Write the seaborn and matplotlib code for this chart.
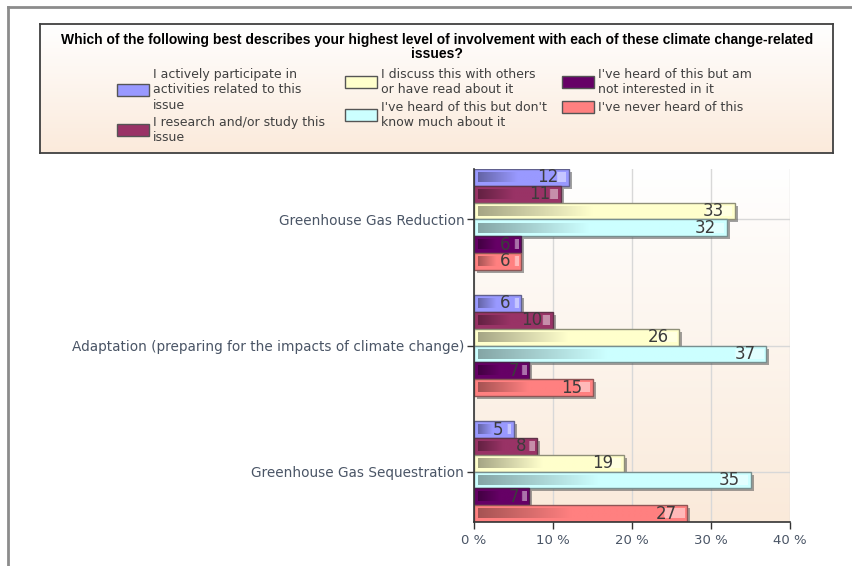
import numpy as np
import pandas as pd
import matplotlib
matplotlib.use("Agg")
import matplotlib.pyplot as plt
import matplotlib.patheffects as pe
from matplotlib.colors import to_rgb
from matplotlib.patches import Rectangle
from matplotlib.lines import Line2D
import seaborn as sns

# ---------------------------------------------------------------------------
# Data
# ---------------------------------------------------------------------------
issues = [
    "Greenhouse Gas Reduction",
    "Adaptation (preparing for the impacts of climate change)",
    "Greenhouse Gas Sequestration",
]
levels = [
    "I actively participate in\nactivities related to this\nissue",
    "I research and/or study this\nissue",
    "I discuss this with others\nor have read about it",
    "I've heard of this but don't\nknow much about it",
    "I've heard of this but am\nnot interested in it",
    "I've never heard of this",
]
colors = ["#9999FF", "#993366", "#FFFFCC", "#CCFFFF", "#660066", "#FF8080"]

participate = [12, 6, 5]
research = [11, 10, 8]
discuss = [33, 26, 19]
heard_dont_know = [32, 37, 35]
heard_not_interested = [6, 7, 7]
never_heard = [6, 15, 27]

x_ticks = [0, 10, 20, 30, 40]
title_lines = [
    "Which of the following best describes your highest level of involvement "
    "with each of these climate change-related",
    "issues?",
]

series = [participate, research, discuss, heard_dont_know, heard_not_interested, never_heard]
rows = []
for lvl, vals in zip(levels, series):
    for iss, v in zip(issues, vals):
        rows.append({"issue": iss, "level": lvl, "pct": v})
df = pd.DataFrame(rows)

TEXT = "#4a5566"
W, H = 852, 566


def mix(c1, c2, t):
    a, b = np.array(to_rgb(c1)), np.array(to_rgb(c2))
    return tuple(a * (1 - t) + b * t)


def vgradient(top, bottom, n=256):
    t = np.linspace(0, 1, n)[:, None]
    a, b = np.array(to_rgb(top)), np.array(to_rgb(bottom))
    return (a[None, None, :] * (1 - t[..., None]) + b[None, None, :] * t[..., None])


def fx(px):
    return px / W


def fy(py):
    return 1 - py / H


# ---------------------------------------------------------------------------
# Figure
# ---------------------------------------------------------------------------
fig = plt.figure(figsize=(W / 100, H / 100), dpi=100)
fig.patch.set_facecolor("white")

# outer frame (left + top)
fig.add_artist(Line2D([fx(8), fx(8)], [0, fy(7)], color="#8c8c8c", lw=2))
fig.add_artist(Line2D([fx(8), 1], [fy(7), fy(7)], color="#8c8c8c", lw=2))

# legend box
lax = fig.add_axes([fx(40), fy(153), fx(793), 129 / H])
lax.imshow(vgradient("#FFFFFF", "#FBEADB"), extent=[0, 1, 0, 1], aspect="auto",
           transform=lax.transAxes, zorder=0)
lax.set_xlim(0, 1)
lax.set_ylim(0, 1)
lax.set_xticks([])
lax.set_yticks([])
for s in lax.spines.values():
    s.set_color("#404040")
    s.set_linewidth(1.3)

for i, line in enumerate(title_lines):
    fig.text(fx(437), fy(40 + i * 13.5), line, ha="center", va="center",
             fontsize=10, fontweight="bold", family="Liberation Sans", color="black")

# legend entries laid out by column, like the original
col_x = [117, 345, 562]
line_h = 15.3
for c in range(3):
    y_top = 67
    for r in range(2):
        k = c * 2 + r
        lines = levels[k].split("\n")
        block = len(lines) * line_h
        yc = y_top + block / 2
        fig.add_artist(Rectangle((fx(col_x[c]), fy(yc + 6)), fx(32), 12 / H,
                                 facecolor=colors[k], edgecolor="#555555", lw=1.0,
                                 transform=fig.transFigure))
        for j, line in enumerate(lines):
            fig.text(fx(col_x[c] + 36), fy(y_top + line_h * (j + 0.5)), line,
                     ha="left", va="center", fontsize=9, color="#404040")
        y_top += block + 2

# plot area
ax = fig.add_axes([fx(474), fy(522), fx(316), 353 / H])
ax.imshow(vgradient("#FFFFFF", "#FAEADA"), extent=[0, 1, 0, 1], aspect="auto",
          transform=ax.transAxes, zorder=0)

sns.barplot(data=df, y="issue", x="pct", hue="level", orient="h", palette=colors,
            hue_order=levels, order=issues, width=0.8, legend=False, ax=ax,
            saturation=1, zorder=3)

for cont, col in zip(ax.containers, colors):
    dark = mix(col, "#000000", 0.35)
    for p in cont.patches:
        p.set_edgecolor(mix(col, "#333333", 0.55))
        p.set_linewidth(1.0)
        p.set_path_effects([pe.SimplePatchShadow(offset=(2.2, -2.2), shadow_rgbFace="#555555",
                                                 alpha=0.55), pe.Normal()])
        x0, y0 = p.get_x(), p.get_y()
        w, h = p.get_width(), p.get_height()
        # inner gradient: dark on the left, base colour, light highlight at the end
        n = 200
        t = np.linspace(0, 1, n)
        grad = np.zeros((1, n, 3))
        for i, tt in enumerate(t):
            if tt < 0.45:
                grad[0, i] = mix(dark, col, tt / 0.45)
            elif tt < 0.9:
                grad[0, i] = to_rgb(col)
            else:
                grad[0, i] = mix(col, "#FFFFFF", 0.45)
        insx = min(0.45, w * 0.1)
        insy = h * 0.22
        ax.imshow(grad, extent=[x0 + insx, x0 + w - insx, y0 + h - insy, y0 + insy],
                  aspect="auto", zorder=4, interpolation="bilinear")
        ax.text(w - 1.35, y0 + h / 2, f"{w:g}", ha="right", va="center",
                fontsize=12, color="#3c3c3c", zorder=5)

ax.set_xlim(0, 40)
ax.set_ylim(2.4, -0.4)
ax.set_xticks(x_ticks)
ax.set_xticklabels([f"{v} %" for v in x_ticks])
ax.set_xlabel("")
ax.set_ylabel("")
ax.grid(True, color="#d8d8d8", lw=1, zorder=1)
ax.set_axisbelow(True)
ax.tick_params(axis="both", colors="#333333", labelcolor=TEXT, labelsize=9.5,
               length=5, width=1, direction="out")
ax.tick_params(axis="y", labelsize=9.8, pad=2)
for side in ["top", "right"]:
    ax.spines[side].set_visible(False)
for side in ["left", "bottom"]:
    ax.spines[side].set_color("#333333")
    ax.spines[side].set_linewidth(1.2)
    ax.spines[side].set_zorder(6)

fig.savefig("out.png", dpi=100)
